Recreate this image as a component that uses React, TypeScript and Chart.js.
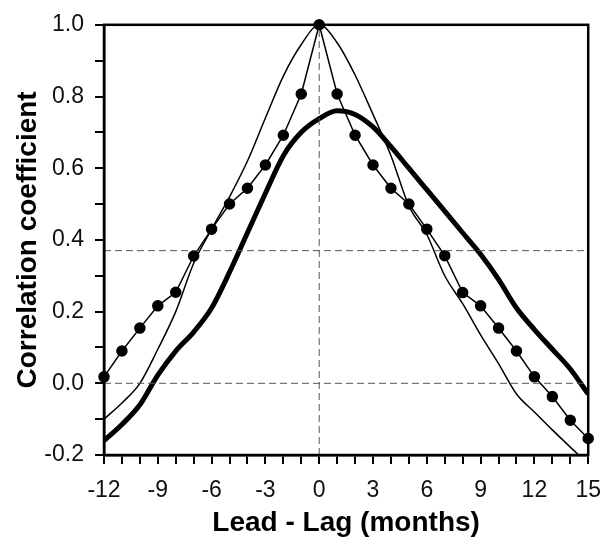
import React, { useEffect, useRef } from "react";
import { Chart, registerables } from "chart.js";

Chart.register(...registerables);

const LAGS = [-12, -11, -10, -9, -8, -7, -6, -5, -4, -3, -2, -1, 0, 1, 2, 3, 4, 5, 6, 7, 8, 9, 10, 11, 12, 13, 14, 15];

const DOTTED = [0.018, 0.09, 0.154, 0.216, 0.254, 0.355, 0.43, 0.5, 0.544, 0.609, 0.692, 0.807, 1.0, 0.807, 0.692, 0.609, 0.544, 0.5, 0.43, 0.356, 0.253, 0.216, 0.154, 0.09, 0.018, -0.037, -0.103, -0.154];

const THIN = [-0.1, -0.055, 0.0, 0.095, 0.2, 0.335, 0.43, 0.52, 0.62, 0.74, 0.857, 0.945, 1.0, 0.95, 0.86, 0.75, 0.635, 0.495, 0.415, 0.3, 0.222, 0.135, 0.055, -0.03, -0.08, -0.13, -0.178, -0.225];

const THICK = [-0.16, -0.115, -0.06, 0.023, 0.09, 0.143, 0.21, 0.31, 0.42, 0.53, 0.635, 0.7, 0.738, 0.76, 0.75, 0.715, 0.66, 0.6, 0.54, 0.48, 0.42, 0.36, 0.29, 0.21, 0.15, 0.095, 0.04, -0.03];

const REF_LEVELS = [0, 0.37];
const REF_LAG = 0;
const X_MIN = -12;
const X_MAX = 15;
const Y_MIN = -0.2;
const Y_MAX = 1.0;

const FONT = "'Liberation Sans', Arial, sans-serif";

const framePlugin = {
  id: "frame",
  afterDatasetsDraw(chart: any) {
    const { ctx, chartArea } = chart;
    ctx.save();
    ctx.strokeStyle = "#000";
    ctx.lineWidth = 2.5;
    ctx.strokeRect(chartArea.left, chartArea.top, chartArea.right - chartArea.left, chartArea.bottom - chartArea.top);
    ctx.restore();
  },
};

export default function App() {
  const ref = useRef<HTMLCanvasElement | null>(null);
  useEffect(() => {
    if (!ref.current) return;
    const pts = (ys: number[]) => LAGS.map((x, i) => ({ x, y: ys[i] }));
    const dashStyle = {
      borderColor: "#555",
      borderWidth: 1,
      borderDash: [7, 4],
      pointRadius: 0,
      showLine: true,
      fill: false,
    };
    const refSets = REF_LEVELS.map((lv) => ({
      ...dashStyle,
      data: [{ x: X_MIN, y: lv }, { x: X_MAX, y: lv }],
    }));
    const chart = new Chart(ref.current, {
      type: "scatter",
      data: {
        datasets: [
          ...refSets,
          { ...dashStyle, data: [{ x: REF_LAG, y: Y_MIN }, { x: REF_LAG, y: Y_MAX }] },
          {
            data: pts(THIN),
            showLine: true,
            borderColor: "#000",
            borderWidth: 1.5,
            pointRadius: 0,
            cubicInterpolationMode: "monotone",
          },
          {
            data: pts(THICK),
            showLine: true,
            borderColor: "#000",
            borderWidth: 5,
            pointRadius: 0,
            cubicInterpolationMode: "monotone",
          },
          {
            data: pts(DOTTED),
            showLine: true,
            borderColor: "#000",
            borderWidth: 1.5,
            pointRadius: 5,
            pointBackgroundColor: "#000",
            pointBorderColor: "#000",
            tension: 0,
            clip: false,
          },
        ] as any,
      },
      options: {
        animation: false,
        responsive: false,
        events: [],
        layout: { padding: { top: 18, right: 14, left: 0, bottom: 0 } },
        plugins: { legend: { display: false }, tooltip: { enabled: false } },
        scales: {
          x: {
            type: "linear",
            min: X_MIN,
            max: X_MAX,
            afterFit: (s: any) => { s.height = 89; },
            border: { display: true, color: "#000", width: 2.5 },
            grid: { drawOnChartArea: false, drawTicks: true, tickLength: 9, color: "#000", lineWidth: 2 },
            ticks: {
              stepSize: 1,
              autoSkip: false,
              maxRotation: 0,
              padding: 13,
              color: "#111",
              font: { family: FONT, size: 23 },
              callback: (v: any) => (Number(v) % 3 === 0 ? String(v) : ""),
            },
            title: {
              display: true,
              text: "Lead - Lag (months)",
              color: "#000",
              font: { family: FONT, size: 28, weight: "bold" },
              padding: { top: 0, bottom: 4 },
            },
          },
          y: {
            type: "linear",
            min: Y_MIN,
            max: Y_MAX,
            afterFit: (s: any) => { s.width = 104; },
            border: { display: true, color: "#000", width: 2.5 },
            grid: { drawOnChartArea: false, drawTicks: true, tickLength: 9, color: "#000", lineWidth: 2 },
            ticks: {
              stepSize: 0.1,
              autoSkip: false,
              padding: 11,
              color: "#111",
              font: { family: FONT, size: 23 },
              callback: (v: any) => {
                const n = Math.round(Number(v) * 10);
                if (n % 2 !== 0) return "";
                return n === 0 ? "0.0" : (n / 10).toFixed(1);
              },
            },
            title: {
              display: true,
              text: "Correlation coefficient",
              color: "#000",
              font: { family: FONT, size: 28, weight: "bold" },
              padding: { top: 11, bottom: 0 },
            },
          },
        },
      },
      plugins: [framePlugin],
    });
    return () => chart.destroy();
  }, []);
  return (
    <div style={{ position: "absolute", left: 0, top: 0, width: 614, height: 544, background: "#fff" }}>
      <canvas ref={ref} width={614} height={544} />
    </div>
  );
}
